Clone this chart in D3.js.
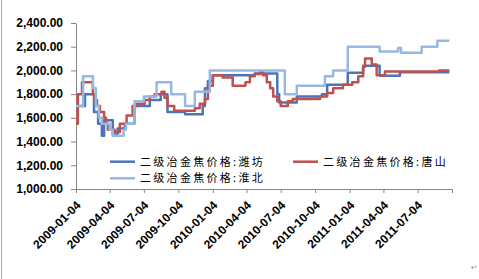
<!DOCTYPE html>
<html>
<head>
<meta charset="utf-8">
<script src="https://cdn.jsdelivr.net/npm/d3@7/dist/d3.min.js"></script>
<style>
body { margin: 0; background: #fff; }
</style>
</head>
<body>
<svg class="chart"></svg>
<script>
const width = 479, height = 279;

// series names + colours (order = draw order, last on top)
const seriesNames = ["二级冶金焦价格:潍坊", "二级冶金焦价格:唐山", "二级冶金焦价格:淮北"];
const colors = ["#4a76b8", "#c0504d", "#95b9e3"];

// price change points (weekly series, steps)
const weifangDates = ["2009-01-04","2009-01-28","2009-02-21","2009-03-04","2009-03-14","2009-03-20","2009-04-12","2009-04-25","2009-05-14","2009-06-09","2009-07-20","2009-08-18","2009-09-05","2009-10-22","2009-12-08","2009-12-14","2009-12-22","2010-01-04","2010-04-26","2010-06-25","2010-06-30","2010-08-16","2010-10-22","2010-11-05","2010-12-30","2011-02-09","2011-03-25","2011-05-18","2011-09-27"];
const weifangValues = [1700,1800,1650,1550,1450,1580,1460,1510,1550,1700,1750,1800,1650,1630,1700,1850,1910,1960,1975,1800,1730,1780,1800,1880,1980,2040,1955,1985,1985];

const tangshanDates = ["2009-01-04","2009-01-09","2009-01-20","2009-02-18","2009-02-24","2009-03-01","2009-03-09","2009-03-20","2009-03-25","2009-03-30","2009-04-17","2009-05-01","2009-05-19","2009-06-04","2009-06-15","2009-07-06","2009-07-20","2009-08-02","2009-08-20","2009-08-28","2009-09-05","2009-09-23","2009-11-17","2009-11-30","2009-12-14","2009-12-22","2010-01-04","2010-01-30","2010-02-26","2010-04-01","2010-04-13","2010-04-26","2010-05-10","2010-05-18","2010-05-28","2010-06-06","2010-06-14","2010-06-25","2010-07-04","2010-07-23","2010-08-05","2010-10-17","2010-11-05","2010-11-21","2010-12-17","2011-01-11","2011-01-27","2011-02-09","2011-02-14","2011-03-04","2011-03-17","2011-04-08","2011-08-31","2011-09-27"];
const tangshanValues = [1550,1800,1900,1800,1750,1700,1650,1600,1550,1500,1480,1550,1620,1700,1720,1750,1780,1800,1820,1770,1700,1660,1680,1720,1760,1870,1960,1940,1870,1900,1950,1970,1990,1960,1900,1850,1780,1740,1700,1740,1760,1780,1810,1850,1880,1900,1950,2030,2100,2050,1960,1990,2000,2000];

const huaibeiDates = ["2009-01-04","2009-01-23","2009-02-18","2009-02-26","2009-03-06","2009-03-14","2009-04-04","2009-04-12","2009-05-11","2009-05-17","2009-06-09","2009-07-04","2009-08-07","2009-09-15","2009-10-22","2009-11-17","2009-12-27","2010-07-15","2010-08-16","2010-10-30","2010-11-21","2010-12-30","2011-03-25","2011-05-13","2011-05-21","2011-07-15","2011-08-26","2011-09-27"];
const huaibeiValues = [1700,1950,1850,1700,1600,1550,1500,1450,1500,1550,1740,1780,1900,1800,1700,1820,2000,1800,1870,1950,2000,2200,2160,2190,2150,2200,2250,2250];

const tickLabels = ["2009-01-04","2009-04-04","2009-07-04","2009-10-04","2010-01-04","2010-04-04","2010-07-04","2010-10-04","2011-01-04","2011-04-04","2011-07-04"];
const axisEnd = "2011-10-04";
const yTicks = [1000,1200,1400,1600,1800,2000,2200,2400];

const parse = d3.utcParse("%Y-%m-%d");
const fmt = d3.format(",.2f");

const series = [
  {name: seriesNames[0], color: colors[0], pts: weifangDates.map((d,i) => ({date: parse(d), v: weifangValues[i]}))},
  {name: seriesNames[1], color: colors[1], pts: tangshanDates.map((d,i) => ({date: parse(d), v: tangshanValues[i]}))},
  {name: seriesNames[2], color: colors[2], pts: huaibeiDates.map((d,i) => ({date: parse(d), v: huaibeiValues[i]}))}
];

const x = d3.scaleUtc()
  .domain([parse(tickLabels[0]), parse(axisEnd)])
  .range([76, 452]);
const y = d3.scaleLinear()
  .domain([1000, 2400])
  .range([189, 23]);

const svg = d3.select(".chart")
  .attr("width", width)
  .attr("height", height)
  .style("display", "block");

const font = "'Liberation Sans', Arial, sans-serif";

// left frame edge
svg.append("line")
  .attr("x1", 1.5).attr("x2", 1.5)
  .attr("y1", 0).attr("y2", height)
  .attr("stroke", "#a6a6a6");

// y axis
const yAxis = svg.append("g")
  .attr("transform", "translate(76,0)")
  .call(d3.axisLeft(y).tickValues(yTicks).tickFormat(fmt).tickSize(5).tickSizeOuter(0));
yAxis.select(".domain").attr("stroke", "#868686");
yAxis.selectAll(".tick line").attr("stroke", "#868686");
yAxis.selectAll("text")
  .attr("x", -13)
  .attr("fill", "#000")
  .attr("font-family", font)
  .attr("font-size", 12)
  .attr("font-weight", "bold");

// x axis
const xTickDates = tickLabels.map(parse).concat([parse(axisEnd)]);
const xAxis = svg.append("g")
  .attr("transform", "translate(0,189)")
  .call(d3.axisBottom(x).tickValues(xTickDates)
    .tickFormat((d,i) => i < tickLabels.length ? tickLabels[i] : "")
    .tickSize(4).tickSizeOuter(0));
xAxis.select(".domain").attr("stroke", "#868686");
xAxis.selectAll(".tick line").attr("stroke", "#868686");
xAxis.selectAll("text")
  .attr("x", 0).attr("y", 0)
  .attr("dy", "0.35em")
  .attr("text-anchor", "end")
  .attr("transform", "translate(2,14) rotate(-45)")
  .attr("fill", "#000")
  .attr("font-family", font)
  .attr("font-size", 12)
  .attr("font-weight", "bold");

// lines
const line = d3.line()
  .x(d => x(d.date))
  .y(d => y(d.v))
  .curve(d3.curveStepAfter);

svg.append("g")
  .selectAll("path")
  .data(series)
  .enter().append("path")
    .attr("fill", "none")
    .attr("stroke", d => d.color)
    .attr("stroke-width", 2.5)
    .attr("stroke-linejoin", "round")
    .attr("d", d => line(d.pts));

// legend
const legendPos = [[110, 161.7], [293, 161.7], [110, 178.3]];
const legend = svg.append("g")
  .selectAll("g")
  .data(series)
  .enter().append("g")
    .attr("transform", (d,i) => `translate(${legendPos[i][0]},${legendPos[i][1]})`);
legend.append("line")
  .attr("x1", 0).attr("x2", 25)
  .attr("stroke", d => d.color)
  .attr("stroke-width", 2.5);
legend.append("text")
  .attr("x", 30)
  .attr("dy", "0.36em")
  .attr("font-family", "'Noto Sans CJK SC', sans-serif")
  .attr("font-size", 11)
  .attr("letter-spacing", "2.3px")
  .attr("fill", "#000")
  .text(d => d.name);

// paragraph mark bottom right
svg.append("text")
  .attr("x", 471).attr("y", 270)
  .attr("font-family", "'DejaVu Sans', sans-serif")
  .attr("font-size", 8)
  .attr("fill", "#999")
  .text("↵");
</script>
</body>
</html>
